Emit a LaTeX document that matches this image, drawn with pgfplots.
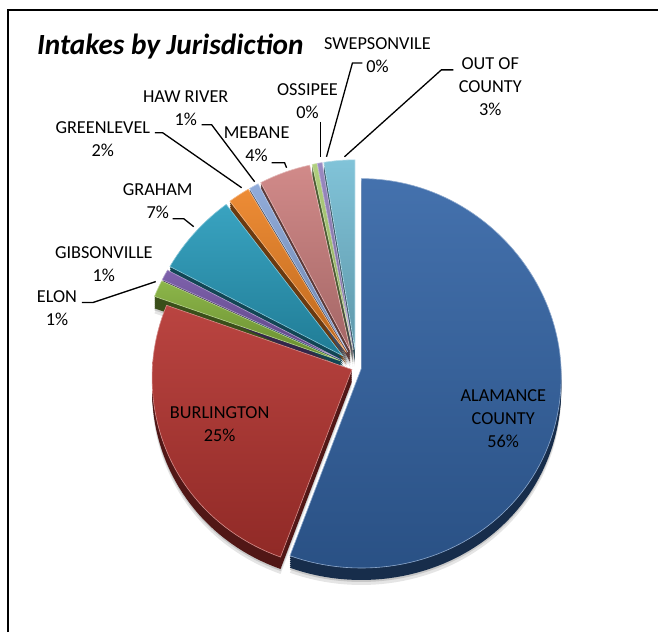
\documentclass[border=0pt]{standalone}
\usepackage{pgfplots}
\pgfplotsset{compat=1.18}
\usepackage{fontspec}
\setmainfont{Carlito}

% slice colours, clockwise from 12 o'clock
\definecolor{cA}{RGB}{52,101,166}   % Alamance County
\definecolor{cB}{RGB}{180,52,48}    % Burlington
\definecolor{cC}{RGB}{130,175,58}   % Elon
\definecolor{cD}{RGB}{115,84,165}   % Gibsonville
\definecolor{cE}{RGB}{40,155,187}   % Graham
\definecolor{cF}{RGB}{236,130,36}   % Greenlevel
\definecolor{cG}{RGB}{136,165,215}  % Haw River
\definecolor{cH}{RGB}{205,128,127}  % Mebane
\definecolor{cI}{RGB}{170,204,115}  % Ossipee
\definecolor{cJ}{RGB}{146,128,188}  % Swepsonville
\definecolor{cK}{RGB}{118,190,213}  % Out of County

% percent / colour / explode distance (px)
\def\pievalues{55.6/cA/5,24.9/cB/5,1.4/cC/18,0.9/cD/18,6.9/cE/18,1.8/cF/18,0.8/cG/18,4.3/cH/18,0.4/cI/18,0.4/cJ/18,2.6/cK/18}

\def\cx{357}\def\cy{368}\def\rx{200}

% wedge outline from angle #1 to #2 (clockwise from top), exploded by #3, shifted down by #4
\newcommand\buildwedge[4]{%
  \pgfmathsetmacro\bis{(#1+#2)/2}%
  \pgfmathsetmacro\ox{\cx+#3*sin(\bis)}%
  \pgfmathsetmacro\oy{\cy-#3*cos(\bis)+#4}%
  \xdef\wedgecoords{(\ox,\oy)}%
  \pgfmathtruncatemacro\nstep{max(2,ceil((#2-#1)/2))}%
  \pgfmathsetmacro\dang{(#2-#1)/\nstep}%
  \foreach \k in {0,...,\nstep}{%
    \pgfmathsetmacro\ang{#1+\dang*\k}%
    \pgfmathsetmacro\cs{cos(\ang)}%
    \pgfmathsetmacro\ryy{ifthenelse(\cs>0,190,200)}%
    \pgfmathsetmacro\px{\ox+\rx*sin(\ang)*(1-0.04*\cs)}%
    \pgfmathsetmacro\py{\oy-\ryy*\cs}%
    \xdef\wedgecoords{\wedgecoords (\px,\py)}%
  }%
}

\newcommand\lbl{\fontsize{18.3}{23}\selectfont}

\begin{document}
\begin{tikzpicture}
\begin{axis}[
  width=659pt, height=633pt, scale only axis,
  xmin=0, xmax=659, ymin=0, ymax=633, y dir=reverse,
  hide axis, clip=false,
]
\addplot[draw=none] coordinates {(0,0) (659,633)};
% frame
\addplot[black, line width=2pt] coordinates {(8,633) (8,10) (659,10)};

% soft shadow
\gdef\cum{0}
\foreach \v/\cc/\oo in \pievalues {
  \pgfmathsetmacro\aA{\cum}
  \pgfmathsetmacro\aB{\cum+3.6*\v}
  \buildwedge{\aA}{\aB}{\oo}{17}
  \edef\tmp{\noexpand\addplot[draw=none, fill=black!10] coordinates {\wedgecoords} -- cycle;}\tmp
  \buildwedge{\aA}{\aB}{\oo}{14}
  \edef\tmp{\noexpand\addplot[draw=none, fill=black!22] coordinates {\wedgecoords} -- cycle;}\tmp
  \xdef\cum{\aB}
}
% sides
\gdef\cum{0}
\foreach \v/\cc/\oo in \pievalues {
  \pgfmathsetmacro\aA{\cum}
  \pgfmathsetmacro\aB{\cum+3.6*\v}
  \foreach \s in {2,4,...,12} {
    \buildwedge{\aA}{\aB}{\oo}{\s}
    \edef\tmp{\noexpand\addplot[draw=none, fill=\cc!45!black] coordinates {\wedgecoords} -- cycle;}\tmp
  }
  \xdef\cum{\aB}
}
% tops
\gdef\cum{0}
\foreach \v/\cc/\oo in \pievalues {
  \pgfmathsetmacro\aA{\cum}
  \pgfmathsetmacro\aB{\cum+3.6*\v}
  \buildwedge{\aA}{\aB}{\oo}{0}
  \edef\tmp{\noexpand\addplot[draw=\cc!55!white, line width=0.6pt, top color=\cc!92!white, bottom color=\cc!80!black] coordinates {\wedgecoords} -- cycle;}\tmp
  \xdef\cum{\aB}
}

% leader lines
\addplot[black, line width=1.3pt] coordinates {(82,303) (93,303) (156,282)};
\addplot[black, line width=1.3pt] coordinates {(173,219) (184,219) (194,227)};
\addplot[black, line width=1.3pt] coordinates {(155,133) (163,133) (242,188)};
\addplot[black, line width=1.3pt] coordinates {(202,125) (212,125) (255,182)};
\addplot[black, line width=1.3pt] coordinates {(272,163) (285,163) (287,168)};
\addplot[black, line width=1.3pt] coordinates {(321,122) (321,157)};
\addplot[black, line width=1.3pt] coordinates {(363,63) (353,63) (327,157)};
\addplot[black, line width=1.3pt] coordinates {(454,70) (442,70) (345,157)};

% labels
\node[anchor=base west, inner sep=0, font=\fontsize{29.3}{35}\selectfont\bfseries\itshape] at (axis cs:37,55) {Intakes by Jurisdiction};
\begin{scope}[every node/.style={align=center, inner sep=0, anchor=center, font=\lbl}]
\node at (axis cs:378,55.5) {SWEPSONVILE\\0\%};
\node at (axis cs:308,101.5) {OSSIPEE\\0\%};
\node at (axis cs:491,87) {OUT OF\\COUNTY\\3\%};
\node at (axis cs:186,108.5) {HAW RIVER\\1\%};
\node at (axis cs:103,139) {GREENLEVEL\\2\%};
\node at (axis cs:257,144.5) {MEBANE\\4\%};
\node at (axis cs:158,201.5) {GRAHAM\\7\%};
\node at (axis cs:104,264.5) {GIBSONVILLE\\1\%};
\node at (axis cs:57,309) {ELON\\1\%};
\node at (axis cs:220,424.5) {BURLINGTON\\25\%};
\node at (axis cs:504,419.5) {ALAMANCE\\COUNTY\\56\%};
\end{scope}
\end{axis}
\end{tikzpicture}
\end{document}
